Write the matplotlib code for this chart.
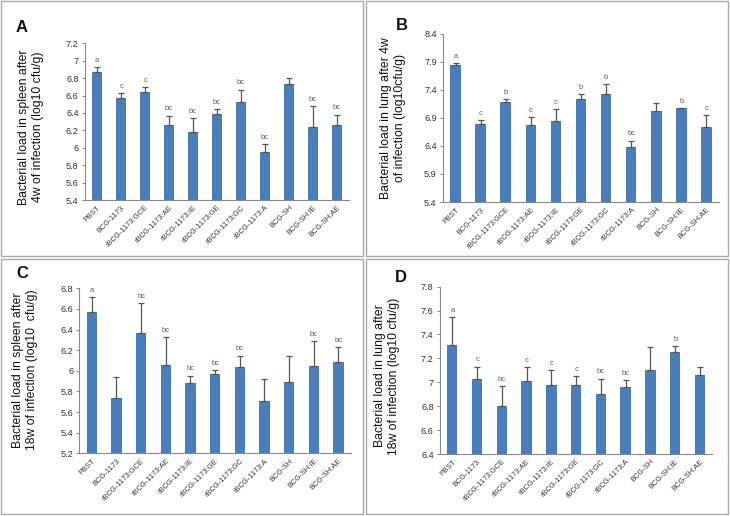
import numpy as np
import matplotlib
matplotlib.use("Agg")
import matplotlib.pyplot as plt
from matplotlib.patches import Rectangle
from matplotlib.ticker import FuncFormatter

plt.rcParams['font.family'] = ['Liberation Sans', 'DejaVu Sans']

groups = ["PBST", "BCG-1173", "rBCG-1173:GCE", "rBCG-1173:AE", "rBCG-1173:IE",
          "rBCG-1173:GE", "rBCG-1173:GC", "rBCG-1173:A", "BCG-SH", "BCG-SH:IE", "BCG-SH:AE"]

a_mean = [6.867, 6.568, 6.637, 6.257, 6.177, 6.384, 6.526, 5.951, 6.732, 6.242, 6.257]
a_err = [0.057, 0.057, 0.057, 0.112, 0.165, 0.057, 0.141, 0.088, 0.073, 0.233, 0.123]
a_sig = ['a', 'c', 'c', 'bc', 'bc', 'bc', 'bc', 'bc', '', 'bc', 'bc']

b_mean = [7.841, 6.790, 7.176, 6.772, 6.838, 7.230, 7.325, 6.386, 7.027, 7.069, 6.743]
b_err = [0.036, 0.071, 0.059, 0.143, 0.213, 0.095, 0.172, 0.107, 0.131, 0.005, 0.208]
b_sig = ['a', 'c', 'b', 'c', 'c', 'b', 'b', 'bc', '', 'b', 'c']

c_mean = [6.571, 5.733, 6.364, 6.060, 5.882, 5.973, 6.035, 5.708, 5.891, 6.043, 6.082]
c_err = [0.142, 0.211, 0.291, 0.265, 0.071, 0.033, 0.113, 0.217, 0.249, 0.245, 0.145]
c_sig = ['a', '', 'bc', 'bc', 'bc', 'bc', 'bc', '', '', 'bc', 'bc']

d_mean = [7.312, 7.028, 6.802, 7.014, 6.981, 6.981, 6.903, 6.958, 7.106, 7.251, 7.061]
d_err = [0.231, 0.103, 0.167, 0.111, 0.122, 0.070, 0.125, 0.061, 0.192, 0.050, 0.064]
d_sig = ['a', 'c', 'bc', 'c', 'c', 'c', 'bc', 'bc', '', 'b', '']

W, H = 730, 516
fig = plt.figure(figsize=(W / 100, H / 100), dpi=100)
fig.patch.set_facecolor('white')

# panel frames
for (x0, y0, x1, y1) in [(1, 1, 363, 256), (366, 1, 728, 256), (1, 259, 363, 514), (366, 259, 728, 514)]:
    fig.patches.append(Rectangle((x0 / W, 1 - y1 / H), (x1 - x0) / W, (y1 - y0) / H,
                                 transform=fig.transFigure, fill=False,
                                 edgecolor='#a9a9a9', linewidth=1.0))

panels = [
    dict(letter='A', mean=a_mean, err=a_err, sig=a_sig, box=(85, 349, 43.3, 200),
         ylim=(5.4, 7.2), step=0.2,
         ylabel='Bacterial load in spleen after\n4w of infection (log10 cfu/g)',
         lab=(44, 127), letpos=(22, 27)),
    dict(letter='B', mean=b_mean, err=b_err, sig=b_sig, box=(443, 719, 33.7, 202),
         ylim=(5.4, 8.4), step=0.5,
         ylabel='Bacterial load in lung after 4w\nof infection (log10cfu/g)',
         lab=(406, 118), letpos=(402, 26)),
    dict(letter='C', mean=c_mean, err=c_err, sig=c_sig, box=(79.4, 350.7, 288.3, 453.3),
         ylim=(5.2, 6.8), step=0.2,
         ylabel='Bacterial load in spleen after\n18w of infection (log10  cfu/g)',
         lab=(38, 370), letpos=(22, 273)),
    dict(letter='D', mean=d_mean, err=d_err, sig=d_sig, box=(439.9, 712.4, 286.7, 454),
         ylim=(6.4, 7.8), step=0.2,
         ylabel='Bacterial load in lung after\n18w of infection (log10 cfu/g)',
         lab=(400, 376), letpos=(401, 278)),
]

x = np.arange(len(groups))
for p in panels:
    l, r, t, b = p['box']
    ax = fig.add_axes([l / W, 1 - b / H, (r - l) / W, (b - t) / H])
    lo, hi = p['ylim']
    ax.bar(x, np.array(p['mean']) - lo, bottom=lo, width=0.42, color='#4a7ebb', zorder=2)
    ax.errorbar(x, p['mean'], yerr=[np.zeros(len(x)), p['err']], fmt='none',
                ecolor='#555555', elinewidth=0.9, capsize=2.2, capthick=0.9, zorder=3)
    for xi, m, e, s in zip(x, p['mean'], p['err'], p['sig']):
        if s:
            ax.annotate(s, (xi, m + e), xytext=(0, 2.5), textcoords='offset points',
                        ha='center', va='bottom', fontsize=5.4, color='#6e5a50')
    ax.set_xlim(-0.5, len(groups) - 0.5)
    ax.set_ylim(lo, hi)
    ax.set_yticks(np.arange(lo, hi + 1e-6, p['step']))
    ax.yaxis.set_major_formatter(FuncFormatter(lambda v, pos: f'{round(v, 1):g}'))
    ax.set_xticks(x)
    ax.set_xticklabels(groups, rotation=45, ha='right', rotation_mode='anchor', fontsize=5.4,
                       color='#333333')
    ax.tick_params(axis='x', length=0, pad=3)
    ax.tick_params(axis='y', labelsize=6.6, length=2.5, width=0.7, color='#888888',
                   labelcolor='#333333', pad=2)
    for sp in ['top', 'right']:
        ax.spines[sp].set_visible(False)
    for sp in ['left', 'bottom']:
        ax.spines[sp].set_color('#888888')
        ax.spines[sp].set_linewidth(0.8)
    ax.set_ylabel(p['ylabel'], fontsize=8.8, color='#111111', linespacing=1.2)
    ax.yaxis.set_label_coords(p['lab'][0] / W, 1 - p['lab'][1] / H, transform=fig.transFigure)
    fig.text(p['letpos'][0] / W, 1 - p['letpos'][1] / H, p['letter'], fontsize=12,
             fontweight='bold', ha='center', va='center', color='#111111')

fig.savefig('out.png', dpi=100)
